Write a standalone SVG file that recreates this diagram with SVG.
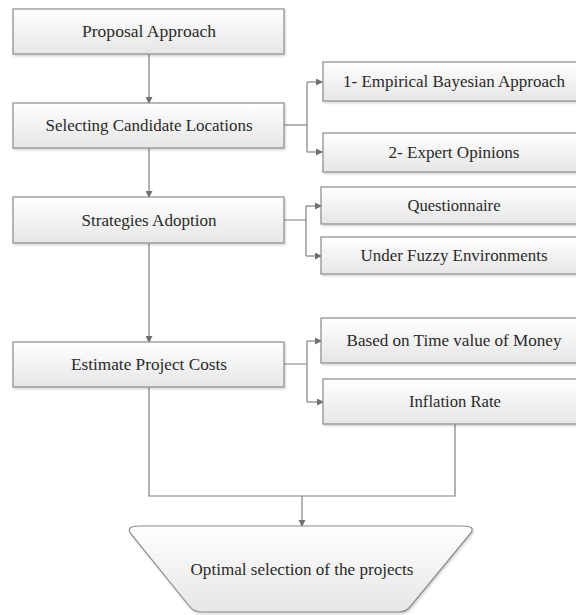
<svg xmlns="http://www.w3.org/2000/svg" width="576" height="615" viewBox="0 0 576 615">
<defs>
<linearGradient id="g" x1="0" y1="0" x2="0" y2="1">
<stop offset="0" stop-color="#ffffff"/>
<stop offset="1" stop-color="#e6e6e6"/>
</linearGradient>
<marker id="ah" markerWidth="7" markerHeight="7" refX="6" refY="3.5" orient="auto" markerUnits="userSpaceOnUse">
<path d="M0,0 L7,3.5 L0,7 Z" fill="#707070"/>
</marker>
<filter id="sh" x="-5%" y="-5%" width="110%" height="120%">
<feDropShadow dx="1" dy="1.5" stdDeviation="1" flood-color="#000" flood-opacity="0.18"/>
</filter>
</defs>
<style>
.box{fill:url(#g);stroke:#8c8c8c;stroke-width:1.2;filter:url(#sh)}
.t{font-family:'Liberation Serif','DejaVu Serif','Noto Serif',serif;font-size:16px;fill:#2a2a2a;text-anchor:middle}
.c{fill:none;stroke:#808080;stroke-width:1.2}
.a{marker-end:url(#ah)}
</style>
<g id="connectors">
<path class="c a" d="M149,54 V103"/>
<path class="c a" d="M149,148 V197"/>
<path class="c a" d="M149,243 V342"/>
<path class="c" d="M284,125 H307"/>
<path class="c" d="M307,82 V152"/>
<path class="c a" d="M307,82 H322"/>
<path class="c a" d="M307,152 H322"/>
<path class="c" d="M284,220 H306 M306,206 V256"/>
<path class="c a" d="M306,206 H321"/>
<path class="c a" d="M306,256 H321"/>
<path class="c" d="M284,364 H307 M307,341 V402"/>
<path class="c a" d="M307,341 H321"/>
<path class="c a" d="M307,402 H323"/>
<path class="c" d="M149,387 V496 H455 V424"/>
<path class="c a" d="M302,496 V526"/>
</g>
<g id="n1"><rect class="box" x="13" y="9" width="271" height="45"/><text class="t" x="149" y="37" textLength="134" lengthAdjust="spacingAndGlyphs">Proposal Approach</text></g>
<g id="n2"><rect class="box" x="13" y="103" width="271" height="45"/><text class="t" x="149" y="131" textLength="207" lengthAdjust="spacingAndGlyphs">Selecting Candidate Locations</text></g>
<g id="n3"><rect class="box" x="13" y="197" width="271" height="46"/><text class="t" x="149" y="226" textLength="135" lengthAdjust="spacingAndGlyphs">Strategies Adoption</text></g>
<g id="n4"><rect class="box" x="13" y="342" width="271" height="45"/><text class="t" x="149" y="370" textLength="156" lengthAdjust="spacingAndGlyphs">Estimate Project Costs</text></g>
<g id="n5"><rect class="box" x="323" y="62" width="264" height="39"/><text class="t" x="454" y="87" textLength="222" lengthAdjust="spacingAndGlyphs">1- Empirical Bayesian Approach</text></g>
<g id="n6"><rect class="box" x="323" y="133" width="264" height="39"/><text class="t" x="454" y="158" textLength="131" lengthAdjust="spacingAndGlyphs">2- Expert Opinions</text></g>
<g id="n7"><rect class="box" x="321" y="187" width="266" height="37"/><text class="t" x="454" y="211" textLength="93" lengthAdjust="spacingAndGlyphs">Questionnaire</text></g>
<g id="n8"><rect class="box" x="321" y="237" width="266" height="37"/><text class="t" x="454" y="261" textLength="187" lengthAdjust="spacingAndGlyphs">Under Fuzzy Environments</text></g>
<g id="n9"><rect class="box" x="321" y="318" width="266" height="45"/><text class="t" x="454" y="346" textLength="215" lengthAdjust="spacingAndGlyphs">Based on Time value of Money</text></g>
<g id="n10"><rect class="box" x="323" y="379" width="264" height="45"/><text class="t" x="455" y="407" textLength="92" lengthAdjust="spacingAndGlyphs">Inflation Rate</text></g>
<g id="n11"><path class="box" d="M140,526 L462,526 Q477,526 470,534 L410,607 Q406,612 398,612 L202,612 Q194,612 190,607 L131,534 Q125,526 140,526 Z"/><text class="t" x="302" y="575" textLength="223" lengthAdjust="spacingAndGlyphs">Optimal selection of the projects</text></g>
</svg>
